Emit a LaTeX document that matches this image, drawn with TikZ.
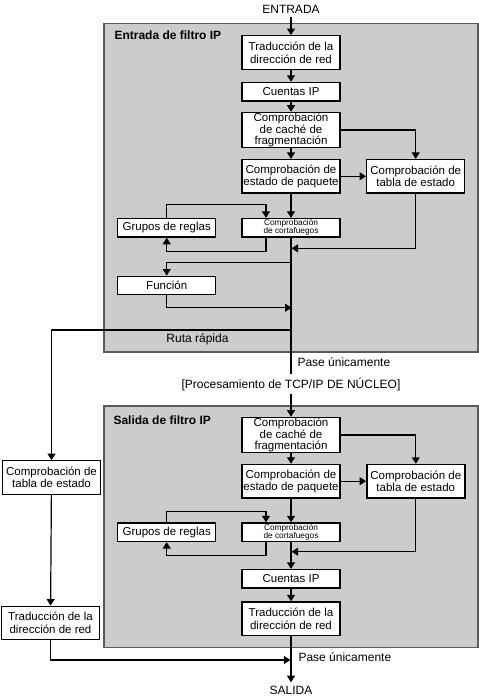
\documentclass[tikz,border=0pt]{standalone}
\usepackage{fontspec}
\setmainfont{Liberation Sans}
\usetikzlibrary{arrows.meta}
\begin{document}
\begin{tikzpicture}[x=1pt, y=-1pt,
    every node/.style={font=\fontsize{12}{12.5}\selectfont},
    >={Triangle[width=8pt,length=6.5pt]},
    linea/.style={line width=1.2pt},
    zona/.style={draw=black!65, line width=1.2pt, fill=black!20},
    caja/.style={draw, line width=1.4pt, fill=white, minimum width=98pt, minimum height=33.5pt, align=center, inner sep=1pt, font=\fontsize{11.5}{12}\selectfont},
    cajabaja/.style={caja, minimum height=18.5pt},
    cajafw/.style={cajabaja, font=\fontsize{8.3}{8}\selectfont}]
    \useasboundingbox (0,0) rectangle (479,696);

    % зоны
    \draw[zona] (104,23.5) rectangle (478,352);
    \draw[zona] (104,406) rectangle (478,647.5);
    \node[anchor=west, font=\fontsize{12}{12}\selectfont\bfseries] (tit1) at (111,35) {Entrada de filtro IP};
    \node[anchor=west, font=\fontsize{12}{12}\selectfont\bfseries] (tit2) at (110,420) {Salida de filtro IP};

    % блоки: entrada
    \node (en) at (291,9) {ENTRADA};
    \node[caja, font=\fontsize{11.5}{13.3}\selectfont] (t1) at (291,52.5) {Traducción de la\\dirección de red};
    \node[cajabaja] (c1) at (291,91.7) {Cuentas IP};
    \node[caja, font=\fontsize{11.5}{10.5}\selectfont] (f1) at (291,130) {Comprobación\\de caché de\\fragmentación};
    \node[caja] (p1) at (291,176.3) {Comprobación de\\estado de paquete};
    \node[caja] (e1) at (415.7,176.3) {Comprobación de\\tabla de estado};
    \node[cajafw] (fw1) at (291,227.8) {Comprobación\\de cortafuegos};
    \node[cajabaja] (g1) at (166.7,227.8) {Grupos de reglas};
    \node[cajabaja] (fn) at (166.7,285.5) {Función};

    % блоки: salida
    \node (pr) at (291,384.3) {[Procesamiento de TCP/IP DE NÚCLEO]};
    \node[caja, font=\fontsize{11.5}{10.5}\selectfont] (f2) at (291,435) {Comprobación\\de caché de\\fragmentación};
    \node[caja] (p2) at (291,481.2) {Comprobación de\\estado de paquete};
    \node[caja] (e2) at (415.8,481.2) {Comprobación de\\tabla de estado};
    \node[cajafw] (fw2) at (291,532.2) {Comprobación\\de cortafuegos};
    \node[cajabaja] (g2) at (166.7,532.2) {Grupos de reglas};
    \node[cajabaja] (c2) at (291,578.8) {Cuentas IP};
    \node[caja, font=\fontsize{11.5}{13.3}\selectfont] (t2) at (291,618.7) {Traducción de la\\dirección de red};
    \node (sa) at (291,690) {SALIDA};

    % блоки: ruta rápida
    \node[caja] (el) at (51.5,477.5) {Comprobación de\\tabla de estado};
    \node[caja, font=\fontsize{11.5}{13.3}\selectfont] (tl) at (50.5,623) {Traducción de la\\dirección de red};

    % подписи
    \node (rr) at (197.5,339) {Ruta rápida};
    \node[anchor=west] (pa1) at (294,361.7) {Pase únicamente};
    \node[anchor=west] (pa2) at (295,656.7) {Pase únicamente};

    % точки на главной линии
    \coordinate (m1) at (291.6,248.3);
    \coordinate (b1) at (291,262.7);
    \coordinate (b2) at (291.6,307.7);
    \coordinate (b3) at (291,330);
    \coordinate (m2) at (291.6,551.7);
    \coordinate (b4) at (290.4,660);

    % стрелки: entrada
    \draw[linea, ->] (en) -- (t1);
    \draw[linea, ->] (t1) -- (c1);
    \draw[linea, ->] (c1) -- (f1);
    \draw[linea, ->] (f1) -- (p1);
    \draw[linea, ->] (f1) -| (e1);
    \draw[linea, ->] (p1) -- (e1);
    \draw[linea, ->] (p1) -- (fw1);
    \draw[linea, ->] (g1.north) -- ++(0,-13) -| ([xshift=-25pt]fw1.north);
    \draw[linea, ->] ([xshift=-25pt]fw1.south) -- ++(0,13.5) -| (g1.south);
    \draw[linea, ->] (e1.south) |- (m1);
    \draw[linea] (fw1.south) -- (pr.north);
    \draw[linea, ->] (b1) -| (fn.north);
    \draw[linea, ->] (fn.south) |- (b2);
    \draw[linea, ->] (b3) -| (el.north);

    % стрелки: salida
    \draw[linea, ->] (pr.south) -- (f2);
    \draw[linea, ->] (f2) -- (p2);
    \draw[linea, ->] (f2) -| (e2);
    \draw[linea, ->] (p2) -- (e2);
    \draw[linea, ->] (p2) -- (fw2);
    \draw[linea, ->] (g2.north) -- ++(0,-11) -| ([xshift=-25pt]fw2.north);
    \draw[linea, ->] ([xshift=-25pt]fw2.south) -- ++(0,13.5) -| (g2.south);
    \draw[linea, ->] (e2.south) |- (m2);
    \draw[linea, ->] (fw2) -- (c2);
    \draw[linea, ->] (c2) -- (t2);
    \draw[linea, ->] (t2) -- (sa);
    \draw[linea, ->] (el) -- (tl);
    \draw[linea, ->] (tl.south) |- (b4);
  \end{tikzpicture}
\end{document}
